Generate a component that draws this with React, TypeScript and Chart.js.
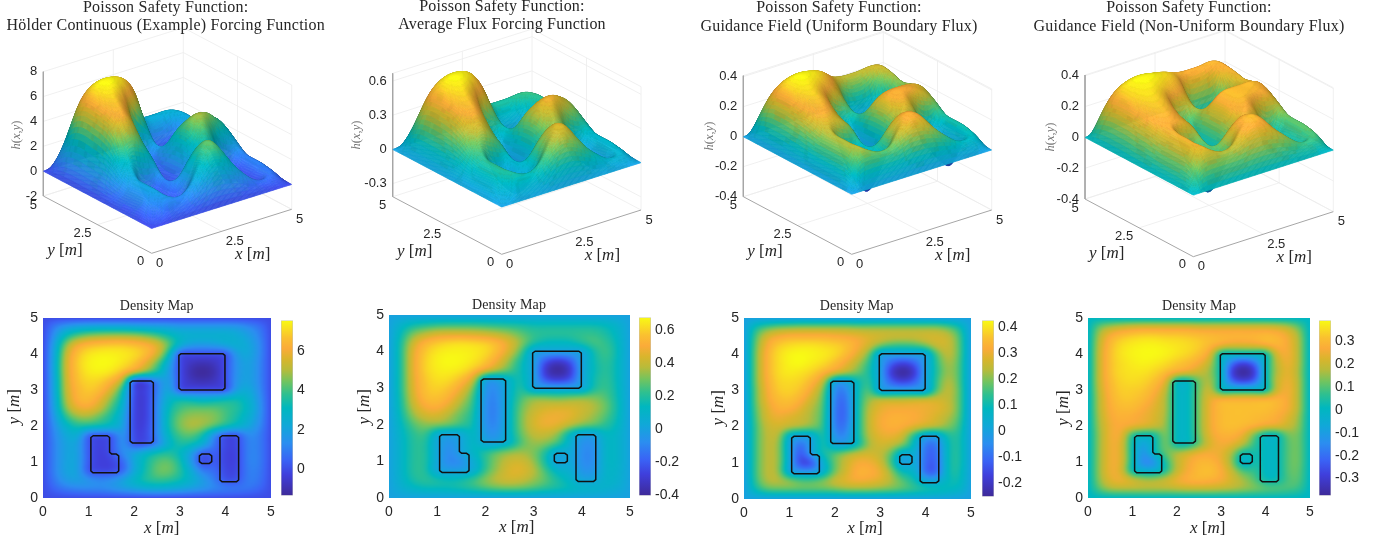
import React, { useEffect, useRef } from "react";
import { Chart, registerables } from "chart.js";
Chart.register(...registerables);

const gridX = [0, .25, .5, .75, 1, 1.25, 1.5, 1.75, 2, 2.25, 2.5, 2.75, 3, 3.25, 3.5, 3.75, 4, 4.25, 4.5, 4.75, 5];
const gridY = [5, 4.75, 4.5, 4.25, 4, 3.75, 3.5, 3.25, 3, 2.75, 2.5, 2.25, 2, 1.75, 1.5, 1.25, 1, .75, .5, .25, 0];
const Z0 = [0, 0, 0, 0, 0, 0, 0, 0, 0, 0, 0, 0, 0, 0, 0, 0, 0, 0, 0, 0, 0];

const holderValues = [
  Z0,
  [0, 1.0, 1.7, 2.1, 2.3, 2.4, 2.4, 2.4, 2.3, 2.2, 2.1, 2.0, 1.8, 1.8, 1.8, 1.8, 1.8, 1.7, 1.3, .8, 0],
  [0, 1.5, 3.3, 4.2, 4.7, 4.9, 5.0, 5.0, 4.9, 4.6, 4.1, 3.4, 2.8, 2.6, 2.6, 2.6, 2.6, 2.4, 1.9, 1.1, 0],
  [0, 2.0, 4.6, 6.0, 6.5, 6.7, 6.8, 6.8, 6.6, 6.3, 5.7, 4.4, 2.6, 1.8, 1.7, 1.8, 2.2, 2.5, 2.2, 1.3, 0],
  [0, 2.2, 5.2, 6.6, 7.2, 7.4, 7.4, 7.3, 7.1, 6.6, 5.6, 3.4, 0, 0, 0, 0, 0, 1.8, 2.2, 1.3, 0],
  [0, 2.3, 5.4, 6.8, 7.4, 7.54, 7.5, 7.2, 6.7, 5.8, 4.3, 2.3, 0, -.7, -.9, -.7, 0, 1.5, 2, 1.2, 0],
  [0, 2.3, 5.4, 6.7, 7.3, 7.4, 7.2, 6.6, 5.7, 4.6, 3.5, 1.9, 0, -1.0, -1.34, -1.0, 0, 1.5, 2, 1.2, 0],
  [0, 2.2, 5.3, 6.6, 7.0, 6.9, 6.3, 5.0, 0, 0, 1.1, 2.0, 0, -.7, -.9, -.7, 0, 1.6, 2, 1.2, 0],
  [0, 2.2, 5.2, 6.4, 6.8, 6.5, 5.5, 3.5, -.1, -.2, .9, 2.3, 0, 0, 0, 0, 0, 1.9, 2.3, 1.3, 0],
  [0, 2.1, 5.0, 6.3, 6.5, 5.9, 4.6, 3.0, -.2, -.3, 1.1, 2.7, 3.2, 3.0, 2.7, 2.9, 3.2, 3.3, 2.7, 1.5, 0],
  [0, 2.0, 4.6, 5.8, 6.0, 5.3, 4.0, 2.6, -.2, -.3, 1.2, 3.1, 3.9, 4.2, 4.2, 4.2, 3.9, 3.6, 2.9, 1.6, 0],
  [0, 1.7, 3.7, 4.7, 4.8, 4.2, 3.4, 2.2, -.2, -.3, 1.2, 3.3, 4.4, 4.8, 4.8, 4.6, 4.0, 3.4, 2.6, 1.5, 0],
  [0, 1.4, 2.8, 3.5, 3.5, 3.3, 2.9, 2.0, -.2, -.2, 1.2, 3.3, 4.5, 5.0, 4.8, 4.2, 3.5, 2.9, 2.2, 1.3, 0],
  [0, 1.2, 2.2, 2.5, .4, .1, .3, 1.6, -.1, -.1, 1.2, 3.0, 4.0, 4.2, 3.4, 1.4, .1, .1, 1.3, 1.0, 0],
  [0, 1.1, 2.0, 2.0, .2, -.2, .1, 1.5, .1, .1, 1.0, 2.7, 3.5, 3.3, 2.5, .9, -.1, -.1, 1.1, 1.0, 0],
  [0, 1.1, 2.0, 2.0, .2, -.3, .1, 1.3, 2.0, 2.8, 3.4, 3.6, 3.1, 1.9, .2, .5, -.2, -.2, 1.1, 1.0, 0],
  [0, 1.1, 2.0, 2.0, .2, -.3, -.2, .5, 2.2, 3.3, 4.1, 4.3, 3.5, 1.7, -.1, .4, -.2, -.2, 1.1, 1.0, 0],
  [0, 1.1, 2.0, 2.0, .1, -.1, -.1, .5, 2.2, 3.4, 4.3, 4.4, 3.7, 2.4, 1.0, .7, -.1, -.1, 1.0, .9, 0],
  [0, .9, 1.7, 1.9, 1.5, 1.2, 1.4, 2.0, 2.9, 3.5, 3.8, 3.7, 3.3, 2.6, 1.8, 1.0, .1, .1, 1.0, .8, 0],
  [0, .5, .9, 1.1, 1.2, 1.2, 1.4, 1.7, 2.0, 2.3, 2.4, 2.3, 2.1, 1.8, 1.5, 1.2, 1.0, .9, .8, .5, 0],
  Z0,
];

const averageFluxValues = [
  Z0,
  [0, .09, .15, .18, .2, .21, .21, .21, .2, .19, .18, .17, .15, .15, .15, .15, .15, .15, .13, .08, 0],
  [0, .15, .3, .37, .42, .43, .43, .42, .4, .37, .33, .27, .22, .21, .21, .21, .22, .22, .18, .11, 0],
  [0, .19, .41, .53, .58, .61, .62, .61, .59, .54, .45, .33, .2, .14, .13, .14, .2, .25, .22, .13, 0],
  [0, .2, .46, .58, .64, .66, .66, .65, .62, .55, .43, .25, 0, 0, 0, 0, 0, .17, .24, .14, 0],
  [0, .2, .47, .6, .66, .677, .67, .64, .58, .48, .33, .17, 0, -.22, -.3, -.22, 0, .15, .22, .13, 0],
  [0, .2, .47, .6, .65, .66, .64, .58, .48, .37, .27, .15, 0, -.32, -.405, -.32, 0, .14, .21, .13, 0],
  [0, .2, .46, .58, .63, .62, .56, .43, 0, 0, .11, .17, 0, -.24, -.3, -.24, 0, .16, .22, .13, 0],
  [0, .2, .45, .57, .6, .57, .48, .3, -.05, -.07, .09, .2, 0, 0, 0, 0, 0, .18, .23, .14, 0],
  [0, .19, .43, .55, .57, .52, .4, .24, -.07, -.09, .1, .25, .31, .3, .28, .3, .32, .31, .26, .15, 0],
  [0, .18, .39, .5, .52, .45, .33, .21, -.08, -.1, .11, .29, .38, .42, .43, .43, .41, .37, .29, .16, 0],
  [0, .16, .33, .42, .43, .36, .27, .18, -.08, -.1, .11, .31, .42, .47, .48, .46, .4, .34, .26, .15, 0],
  [0, .13, .26, .32, .32, .29, .23, .16, -.07, -.09, .11, .31, .43, .48, .46, .39, .32, .28, .21, .13, 0],
  [0, .11, .21, .24, .05, .01, .03, .14, -.04, -.06, .11, .29, .39, .4, .33, .13, .01, .01, .13, .1, 0],
  [0, .1, .2, .2, .02, -.06, .01, .13, .01, .01, .1, .26, .34, .32, .24, .08, -.06, -.06, .11, .1, 0],
  [0, .1, .2, .2, .02, -.09, .01, .12, .2, .28, .33, .35, .31, .19, .02, .05, -.08, -.08, .11, .1, 0],
  [0, .1, .2, .2, .02, -.1, -.07, .05, .21, .33, .41, .42, .34, .17, -.02, .04, -.08, -.08, .11, .1, 0],
  [0, .1, .2, .2, .01, -.01, -.01, .05, .23, .35, .44, .45, .38, .24, .1, .07, -.05, -.05, .1, .09, 0],
  [0, .09, .18, .21, .18, .15, .17, .23, .32, .39, .42, .4, .34, .27, .18, .11, .01, .01, .1, .08, 0],
  [0, .06, .11, .14, .14, .15, .17, .2, .24, .27, .28, .27, .24, .2, .17, .14, .11, .1, .08, .05, 0],
  Z0,
];

const uniformFluxValues = [
  Z0,
  [0, .11, .16, .19, .2, .21, .21, .21, .21, .21, .2, .2, .2, .2, .2, .2, .2, .2, .17, .11, 0],
  [0, .16, .27, .31, .33, .33, .33, .33, .32, .31, .3, .28, .27, .26, .26, .26, .27, .27, .25, .16, 0],
  [0, .18, .31, .37, .39, .4, .4, .39, .38, .36, .32, .27, .2, .16, .15, .16, .2, .26, .26, .17, 0],
  [0, .19, .33, .39, .42, .427, .42, .41, .39, .35, .29, .19, 0, 0, 0, 0, 0, .17, .25, .17, 0],
  [0, .19, .33, .39, .42, .427, .41, .39, .35, .3, .23, .14, 0, -.12, -.17, -.12, 0, .14, .23, .16, 0],
  [0, .19, .33, .39, .41, .4, .38, .34, .29, .24, .19, .12, 0, -.19, -.25, -.19, 0, .13, .22, .16, 0],
  [0, .19, .32, .38, .39, .38, .34, .25, 0, 0, .09, .14, 0, -.12, -.17, -.12, 0, .15, .24, .16, 0],
  [0, .18, .31, .37, .38, .36, .3, .19, -.05, -.06, .09, .17, 0, 0, 0, 0, 0, .17, .25, .17, 0],
  [0, .18, .3, .35, .36, .33, .26, .17, -.07, -.09, .1, .21, .25, .25, .25, .26, .27, .27, .25, .17, 0],
  [0, .17, .28, .33, .33, .29, .23, .16, -.08, -.1, .1, .24, .29, .31, .31, .31, .3, .29, .26, .17, 0],
  [0, .16, .27, .3, .28, .26, .22, .15, -.08, -.1, .1, .25, .31, .33, .33, .32, .3, .27, .23, .16, 0],
  [0, .15, .25, .27, .25, .23, .2, .14, -.07, -.08, .1, .25, .31, .33, .32, .29, .26, .24, .2, .14, 0],
  [0, .15, .24, .24, .05, .01, .03, .13, -.04, -.05, .1, .24, .29, .3, .26, .12, .01, .01, .12, .12, 0],
  [0, .15, .24, .22, .02, -.1, .01, .12, .01, .01, .09, .22, .27, .25, .2, .08, -.08, -.08, .1, .12, 0],
  [0, .15, .24, .22, .02, -.14, .01, .11, .17, .22, .26, .27, .25, .17, .02, .05, -.1, -.1, .1, .12, 0],
  [0, .15, .24, .22, .02, -.16, -.14, .05, .18, .26, .31, .31, .27, .15, -.02, .04, -.11, -.11, .1, .12, 0],
  [0, .15, .24, .22, .01, -.02, -.02, .05, .19, .27, .33, .33, .3, .21, .09, .07, -.11, -.11, .1, .11, 0],
  [0, .14, .23, .24, .21, .17, .17, .2, .26, .29, .31, .3, .28, .23, .17, .11, .02, .02, .09, .1, 0],
  [0, .1, .16, .17, .17, .17, .17, .17, .18, .2, .2, .2, .19, .18, .16, .14, .12, .11, .09, .07, 0],
  Z0,
];

const nonUniformFluxValues = [
  Z0,
  [0, .12, .17, .2, .22, .23, .23, .23, .23, .23, .22, .22, .22, .22, .22, .22, .22, .21, .18, .11, 0],
  [0, .17, .27, .31, .33, .34, .34, .33, .33, .32, .31, .3, .29, .29, .29, .29, .3, .29, .25, .16, 0],
  [0, .19, .3, .35, .37, .38, .38, .37, .36, .35, .33, .3, .26, .23, .23, .24, .27, .29, .26, .17, 0],
  [0, .2, .31, .36, .38, .389, .389, .38, .36, .34, .31, .24, 0, 0, 0, 0, 0, .22, .26, .17, 0],
  [0, .2, .31, .35, .37, .38, .37, .35, .32, .3, .26, .18, 0, -.2, -.28, -.2, 0, .18, .25, .17, 0],
  [0, .2, .31, .35, .36, .36, .34, .31, .27, .24, .2, .15, 0, -.3, -.374, -.3, 0, .17, .24, .16, 0],
  [0, .2, .3, .34, .35, .34, .31, .24, 0, 0, .12, .17, 0, -.22, -.28, -.22, 0, .19, .25, .17, 0],
  [0, .19, .29, .33, .33, .32, .28, .19, 0, 0, .12, .2, 0, 0, 0, 0, 0, .2, .26, .17, 0],
  [0, .18, .28, .32, .32, .3, .25, .17, 0, 0, .13, .24, .28, .28, .28, .28, .29, .29, .26, .17, 0],
  [0, .18, .27, .3, .3, .27, .23, .17, 0, 0, .13, .25, .3, .31, .31, .31, .31, .29, .26, .17, 0],
  [0, .17, .26, .28, .27, .25, .22, .16, 0, 0, .13, .25, .3, .31, .31, .3, .29, .27, .23, .15, 0],
  [0, .16, .25, .27, .25, .23, .2, .15, 0, 0, .13, .25, .3, .31, .3, .28, .25, .24, .2, .14, 0],
  [0, .15, .25, .25, .05, .01, .03, .14, 0, 0, .12, .24, .28, .28, .24, .11, 0, 0, .12, .12, 0],
  [0, .15, .25, .23, .02, -.09, .01, .13, .01, .01, .11, .22, .26, .24, .18, .07, 0, 0, .1, .12, 0],
  [0, .15, .25, .23, .02, -.13, .01, .11, .17, .21, .25, .26, .24, .16, .02, .04, 0, 0, .1, .12, 0],
  [0, .15, .25, .23, .02, -.16, -.13, .05, .18, .25, .29, .29, .25, .14, -.05, .04, 0, 0, .1, .12, 0],
  [0, .15, .25, .22, .01, -.03, -.03, .05, .19, .26, .3, .31, .27, .19, .09, .07, 0, 0, .1, .11, 0],
  [0, .14, .23, .25, .21, .17, .17, .2, .25, .28, .29, .28, .26, .21, .16, .1, .02, .02, .09, .1, 0],
  [0, .1, .16, .17, .17, .17, .17, .17, .18, .19, .19, .19, .18, .17, .15, .13, .11, .1, .09, .07, 0],
  Z0,
];

const obstacleL = [[1.05, .7], [1.66, .7], [1.66, 1.22], [1.46, 1.22], [1.46, 1.73], [1.05, 1.73]];
const obstacleTall = [[1.91, 1.53], [2.42, 1.53], [2.42, 3.25], [1.91, 3.25]];
const obstacleWide = [[2.98, 3], [3.99, 3], [3.99, 4.01], [2.98, 4.01]];
const obstacleSmall = [[3.43, .96], [3.7, .96], [3.7, 1.22], [3.43, 1.22]];
const obstacleRight = [[3.88, .45], [4.29, .45], [4.29, 1.73], [3.88, 1.73]];
const obstacles = [obstacleL, obstacleTall, obstacleWide, obstacleSmall, obstacleRight];

const topTitles = [
  ["Poisson Safety Function:", "Hölder Continuous (Example) Forcing Function"],
  ["Poisson Safety Function:", "Average Flux Forcing Function"],
  ["Poisson Safety Function:", "Guidance Field (Uniform Boundary Flux)"],
  ["Poisson Safety Function:", "Guidance Field (Non-Uniform Boundary Flux)"],
];
const colorbarTicks = [
  [0, 2, 4, 6],
  [-.4, -.2, 0, .2, .4, .6],
  [-.2, -.1, 0, .1, .2, .3, .4],
  [-.3, -.2, -.1, 0, .1, .2, .3],
];
const colorRanges = [[-1.34, 7.54], [-.405, .677], [-.25, .427], [-.374, .389]];
const heightTicks = [
  [-2, 0, 2, 4, 6, 8],
  [-.3, 0, .3, .6],
  [-.4, -.2, 0, .2, .4],
  [-.4, -.2, 0, .2, .4],
];
const planeTicks = [0, 2.5, 5];
const surfaces = [holderValues, averageFluxValues, uniformFluxValues, nonUniformFluxValues];

// layout (page pixels)
const views = [
  { left: 0, width: 340, n: [151.7, 253.3], r: [291.7, 209.3], l: [43.3, 196], k: 12.43, zMin: -2, zMax: 8, title: [165.7, 7.5, 26], hX: 16.7, hY: 135 },
  { left: 340, width: 340, n: [501.7, 254.3], r: [641, 210], l: [392.7, 196.7], k: 114, zMin: -.415, zMax: .667, title: [502, 7, 25], hX: 356.7, hY: 135 },
  { left: 680, width: 340, n: [851.7, 254.3], r: [991.7, 210], l: [743.3, 196.7], k: 150, zMin: -.4, zMax: .407, title: [839, 8, 26.5], hX: 710, hY: 136 },
  { left: 1020, width: 354, n: [1193.3, 256.7], r: [1333.3, 211.7], l: [1085, 199], k: 154, zMin: -.4, zMax: .405, title: [1189, 8, 27], hX: 1050.7, hY: 137 },
];
const maps = [
  { x0: 43, x1: 271, y0: 318, y1: 498, cb: [281, 293], title: [156.7, 306], xl: [161.7, 529], yl: [15, 406.7] },
  { x0: 389, x1: 630, y0: 315, y1: 498, cb: [639, 651], title: [509, 305], xl: [516.7, 528], yl: [365, 406.7] },
  { x0: 744, x1: 971, y0: 318, y1: 499, cb: [982, 994], title: [856.7, 306.7], xl: [865, 529], yl: [719, 407.7] },
  { x0: 1088, x1: 1310, y0: 318, y1: 498, cb: [1319, 1331], title: [1199, 306.7], xl: [1207.7, 529], yl: [1064, 408] },
];

const SANS = "'Liberation Sans', Arial, sans-serif";
const SERIF = "'Liberation Serif', 'Times New Roman', serif";
const INK = "#262626";

const STOPS: [number, number, number, number][] = [
  [0, 62, 42, 152], [.12, 63, 63, 220], [.2, 58, 98, 245], [.3, 43, 142, 240], [.4, 16, 168, 216],
  [.5, 0, 183, 191], [.58, 47, 192, 143], [.65, 112, 196, 96], [.72, 184, 187, 58], [.78, 217, 181, 44],
  [.84, 251, 171, 57], [.9, 250, 192, 48], [1, 248, 250, 20],
];
function cmap(t: number): [number, number, number] {
  t = Math.max(0, Math.min(1, t));
  for (let i = 1; i < STOPS.length; i++) {
    if (t <= STOPS[i][0]) {
      const a = STOPS[i - 1], b = STOPS[i], f = (t - a[0]) / (b[0] - a[0]);
      return [a[1] + (b[1] - a[1]) * f, a[2] + (b[2] - a[2]) * f, a[3] + (b[3] - a[3]) * f];
    }
  }
  return [248, 250, 20];
}
const css = (c: number[]) => `rgb(${c[0] | 0},${c[1] | 0},${c[2] | 0})`;

// Spline painting of a grid (the same role as a line's tension): only used when painting.
function spline(a: number, b: number, c: number, d: number, t: number) {
  return b + .5 * t * (c - a + t * (2 * a - 5 * b + 4 * c - d + t * (3 * (b - c) + d - a)));
}
function soften(line: number[]) {
  const n = line.length, out = new Array(n);
  const get = (i: number) => i < 0 ? 2 * line[0] - line[-i] : i >= n ? 2 * line[n - 1] - line[2 * n - 2 - i] : line[i];
  for (let i = 0; i < n; i++) out[i] = (get(i - 2) + get(i - 1) + get(i) + get(i + 1) + get(i + 2)) / 5;
  return out;
}
function smooth(rows: number[][], R: number, passes: number) {
  const n = rows.length, M = (n - 1) * R + 1;
  const at = (r: number, c: number) => rows[Math.max(0, Math.min(n - 1, r))][Math.max(0, Math.min(n - 1, c))];
  let out: number[][] = [];
  for (let i = 0; i < M; i++) {
    const ri = Math.min(n - 2, Math.floor(i / R)), tr = i / R - ri;
    const row: number[] = [];
    for (let j = 0; j < M; j++) {
      const ci = Math.min(n - 2, Math.floor(j / R)), tc = j / R - ci;
      const v = [-1, 0, 1, 2].map((d) =>
        spline(at(ri + d, ci - 1), at(ri + d, ci), at(ri + d, ci + 1), at(ri + d, ci + 2), tc));
      row.push(spline(v[0], v[1], v[2], v[3], tr));
    }
    out.push(row);
  }
  for (let p = 0; p < passes; p++) {
    out = out.map(soften);
    const cols = out[0].map((_, c) => soften(out.map((r) => r[c])));
    out = out.map((r, ri) => r.map((_, c) => cols[c][ri]));
  }
  return out;
}

type Part = [string, boolean];
function mixed(ctx: any, parts: Part[], cx: number, cy: number, rot: number, size: number, color: string) {
  ctx.save();
  ctx.translate(cx, cy);
  ctx.rotate(rot);
  ctx.fillStyle = color;
  ctx.textBaseline = "middle";
  ctx.textAlign = "left";
  const font = (it: boolean) => `${it ? "italic " : ""}${size}px ${SERIF}`;
  let w = 0;
  parts.forEach(([s, it]) => { ctx.font = font(it); w += ctx.measureText(s).width; });
  let x = -w / 2;
  parts.forEach(([s, it]) => { ctx.font = font(it); ctx.fillText(s, x, 0); x += ctx.measureText(s).width; });
  ctx.restore();
}
const label = (a: string): Part[] => [[a, true], [" [", false], ["m", true], ["]", false]];
const hLabel: Part[] = [["h", true], ["(", false], ["x", true], [",", false], ["y", true], [")", false]];
function titleText(ctx: any, s: string, cx: number, cy: number, size: number, spacing: number) {
  ctx.save();
  ctx.font = `${size}px ${SERIF}`;
  (ctx as any).letterSpacing = `${spacing}px`;
  ctx.fillStyle = INK;
  ctx.textAlign = "center";
  ctx.textBaseline = "middle";
  ctx.fillText(s, cx, cy);
  ctx.restore();
}

function projector(v: any) {
  return (x: number, y: number, z: number) => ({
    x: v.n[0] + (x / 5) * (v.r[0] - v.n[0]) + (y / 5) * (v.l[0] - v.n[0]),
    y: v.n[1] + (x / 5) * (v.r[1] - v.n[1]) + (y / 5) * (v.l[1] - v.n[1]) - (z - v.zMin) * v.k,
  });
}

function surfaceConfig(i: number) {
  const v = views[i], P = projector(v), rows = surfaces[i], ticks = heightTicks[i];
  const [cMin, cMax] = colorRanges[i];
  const gap = { x: NaN, y: NaN };
  const light: any[] = [];
  const seg = (a: any, b: any) => light.push(a, b, gap);
  const levels = [...ticks.filter((t) => t !== v.zMax), v.zMax];
  levels.forEach((z) => {
    seg(P(0, 5, z), P(5, 5, z));
    seg(P(5, 5, z), P(5, 0, z));
  });
  seg(P(2.5, 0, v.zMin), P(2.5, 5, v.zMin));
  seg(P(0, 2.5, v.zMin), P(5, 2.5, v.zMin));
  seg(P(2.5, 5, v.zMin), P(2.5, 5, v.zMax));
  seg(P(5, 2.5, v.zMin), P(5, 2.5, v.zMax));
  seg(P(5, 5, v.zMin), P(5, 5, v.zMax));
  seg(P(5, 0, v.zMin), P(5, 0, v.zMax));
  seg(P(0, 5, v.zMin), P(5, 5, v.zMin));
  seg(P(5, 5, v.zMin), P(5, 0, v.zMin));
  const axes = [P(0, 5, v.zMax), P(0, 5, v.zMin), P(0, 0, v.zMin), P(5, 0, v.zMin)];
  const control: any[] = [];
  rows.forEach((row, r) => row.forEach((h, c) => control.push({ ...P(gridX[c], gridY[r], h), h })));

  const plugin = {
    id: "surface" + i,
    afterDatasetsDraw(chart: any) {
      const ctx = chart.ctx, sx = chart.scales.x, sy = chart.scales.y;
      const R = 6, F = smooth(rows, R, 3), M = F.length, BANDS = 50;
      const dx = 5 / (M - 1), kz = v.k / 30;
      const Z = (ix: number, iy: number) => F[M - 1 - iy][ix];
      const px = (ix: number, iy: number) => {
        const p = P(ix * dx, iy * dx, Z(ix, iy));
        return [sx.getPixelForValue(p.x), sy.getPixelForValue(p.y)];
      };
      const L = [-.45, -.45, .77];
      ctx.save();
      ctx.lineWidth = .6;
      ctx.lineJoin = "round";
      for (let ix = M - 2; ix >= 0; ix--) {
        for (let iy = M - 2; iy >= 0; iy--) {
          const a = Z(ix, iy), b = Z(ix + 1, iy), c = Z(ix + 1, iy + 1), d = Z(ix, iy + 1);
          const zx = ((b - a + c - d) / 2 / dx) * kz, zy = ((d - a + c - b) / 2 / dx) * kz;
          const m = Math.hypot(zx, zy, 1);
          const dot = (-zx * L[0] - zy * L[1] + L[2]) / m;
          const shade = Math.max(.62, Math.min(1.05, .62 + .5 * dot));
          const t = (((a + b + c + d) / 4) - cMin) / (cMax - cMin);
          const band = Math.floor(t * BANDS), fr = t * BANDS - band;
          const col = cmap((band + .5) / BANDS);
          const s = shade * (fr < .25 ? .96 : 1);
          const style = css(col.map((q) => Math.min(255, q * s)));
          const p1 = px(ix, iy), p2 = px(ix + 1, iy), p3 = px(ix + 1, iy + 1), p4 = px(ix, iy + 1);
          ctx.fillStyle = style;
          ctx.strokeStyle = style;
          ctx.beginPath();
          ctx.moveTo(p1[0], p1[1]);
          ctx.lineTo(p2[0], p2[1]);
          ctx.lineTo(p3[0], p3[1]);
          ctx.lineTo(p4[0], p4[1]);
          ctx.closePath();
          ctx.fill();
          ctx.stroke();
        }
      }
      ctx.restore();

      const X = (q: number) => sx.getPixelForValue(q), Y = (q: number) => sy.getPixelForValue(q);
      ctx.save();
      ctx.font = `13px ${SANS}`;
      ctx.fillStyle = INK;
      ctx.textBaseline = "middle";
      ctx.textAlign = "right";
      ticks.forEach((z) => {
        const p = P(0, 5, z);
        ctx.fillText(String(z), X(p.x - 6), Y(p.y));
      });
      ctx.textAlign = "center";
      const yOff = [[-11, 8], [-15, 9], [-10, 9]], xOff = [[8, 10], [13, 10], [8, 10]];
      planeTicks.forEach((t, k) => {
        const py = P(0, t, v.zMin), pxx = P(t, 0, v.zMin);
        ctx.fillText(String(t), X(py.x + yOff[k][0]), Y(py.y + yOff[k][1]));
        ctx.fillText(String(t), X(pxx.x + xOff[k][0]), Y(pxx.y + xOff[k][1]));
      });
      ctx.restore();
      const my = P(0, 2.5, v.zMin), mx = P(2.5, 0, v.zMin);
      mixed(ctx, label("y"), X(my.x - 32.5), Y(my.y + 26), 0, 17, INK);
      mixed(ctx, label("x"), X(mx.x + 31), Y(mx.y + 23), 0, 17, INK);
      mixed(ctx, hLabel, X(v.hX), Y(v.hY), -Math.PI / 2, 12.5, "#707070");
      titleText(ctx, topTitles[i][0], X(v.title[0]), Y(v.title[1]), 16, .23);
      titleText(ctx, topTitles[i][1], X(v.title[0]), Y(v.title[2]), 16, .23);
    },
  };

  return {
    type: "scatter",
    data: {
      datasets: [
        { label: "surface", data: control, pointRadius: 0, showLine: false },
        { label: "axes", data: axes, showLine: true, pointRadius: 0, borderColor: "#a6a6a6", borderWidth: 1, tension: 0 },
        { label: "grid", data: light, showLine: true, pointRadius: 0, borderColor: "#ececec", borderWidth: .8, tension: 0 },
      ],
    },
    options: {
      animation: false, responsive: false, events: [],
      layout: { padding: 0 },
      plugins: { legend: { display: false }, tooltip: { enabled: false } },
      scales: {
        x: { type: "linear", display: false, min: v.left, max: v.left + v.width },
        y: { type: "linear", display: false, min: 0, max: 285, reverse: true },
      },
    },
    plugins: [plugin],
  };
}

function chamfered(poly: number[][], c: number) {
  const out: any[] = [];
  poly.forEach((p, i) => {
    const a = poly[(i + poly.length - 1) % poly.length], b = poly[(i + 1) % poly.length];
    const to = (q: number[]) => {
      const l = Math.hypot(q[0] - p[0], q[1] - p[1]);
      return { x: p[0] + ((q[0] - p[0]) / l) * c, y: p[1] + ((q[1] - p[1]) / l) * c };
    };
    out.push(to(a), to(b));
  });
  out.push(out[0], { x: NaN, y: NaN });
  return out;
}

const MAP_PAD = { left: 43, right: 12, top: 26, bottom: 45 };
function mapConfig(i: number) {
  const m = maps[i], rows = surfaces[i];
  const [cMin, cMax] = colorRanges[i];
  const cells: any[] = [];
  rows.forEach((row, r) => row.forEach((h, c) => cells.push({ x: gridX[c], y: gridY[r], h })));
  const outline: any[] = [];
  obstacles.forEach((o) => outline.push(...chamfered(o, .05)));
  const off = document.createElement("canvas");
  const R = 6, F = smooth(rows, R, 2), M = F.length;
  off.width = M; off.height = M;
  const octx = off.getContext("2d")!;
  const img = octx.createImageData(M, M);
  F.forEach((row, r) => row.forEach((h, c) => {
    const q = cmap((h - cMin) / (cMax - cMin)), o = (r * M + c) * 4;
    img.data[o] = q[0]; img.data[o + 1] = q[1]; img.data[o + 2] = q[2]; img.data[o + 3] = 255;
  }));
  octx.putImageData(img, 0, 0);
  const plugin = {
    id: "density" + i,
    afterDatasetDraw(chart: any, args: any) {
      if (chart.data.datasets[args.index].label !== "density") return;
      const ctx = chart.ctx, a = chart.chartArea, sx = chart.scales.x, sy = chart.scales.y;
      const h = (5 / (M - 1)) / 2;
      ctx.save();
      ctx.beginPath();
      ctx.rect(a.left, a.top, a.right - a.left, a.bottom - a.top);
      ctx.clip();
      ctx.imageSmoothingEnabled = true;
      ctx.imageSmoothingQuality = "high";
      const l = sx.getPixelForValue(-h), t = sy.getPixelForValue(5 + h);
      ctx.drawImage(off, l, t, sx.getPixelForValue(5 + h) - l, sy.getPixelForValue(-h) - t);
      ctx.restore();
    },
    afterDraw(chart: any) {
      const ctx = chart.ctx;
      const ox = m.x0 - MAP_PAD.left, oy = m.y0 - MAP_PAD.top;
      titleText(ctx, "Density Map", m.title[0] - ox, m.title[1] - oy, 14, .12);
      mixed(ctx, label("x"), m.xl[0] - ox, m.xl[1] - oy, 0, 17, INK);
      mixed(ctx, label("y"), m.yl[0] - ox, m.yl[1] - oy, -Math.PI / 2, 17, INK);
    },
  };
  const tickFont = { family: SANS, size: 14 };
  return {
    type: "scatter",
    data: {
      datasets: [
        { label: "obstacles", data: outline, showLine: true, pointRadius: 0, borderColor: "#111111", borderWidth: 1.5, tension: 0, borderJoinStyle: "round" },
        {
          label: "density", data: cells, pointStyle: "rect", pointRadius: 9, borderWidth: 0,
          backgroundColor: (c: any) => css(cmap(((c.raw?.h ?? 0) - cMin) / (cMax - cMin))),
        },
      ],
    },
    options: {
      animation: false, responsive: false, events: [],
      layout: { padding: { top: MAP_PAD.top, right: MAP_PAD.right, left: 0, bottom: 0 } },
      plugins: { legend: { display: false }, tooltip: { enabled: false } },
      scales: {
        x: {
          type: "linear", min: 0, max: 5, grid: { display: false, drawTicks: false }, border: { display: false },
          ticks: { stepSize: 1, font: tickFont, color: INK, padding: 6, maxRotation: 0 },
          afterFit: (s: any) => { s.height = MAP_PAD.bottom; },
        },
        y: {
          type: "linear", min: 0, max: 5, grid: { display: false, drawTicks: false }, border: { display: false },
          ticks: { stepSize: 1, font: tickFont, color: INK, padding: 5 },
          afterFit: (s: any) => { s.width = MAP_PAD.left; },
        },
      },
    },
    plugins: [plugin],
  };
}

function barConfig(i: number) {
  const [cMin, cMax] = colorRanges[i];
  return {
    type: "bar",
    data: {
      labels: ["h"],
      datasets: [{
        data: [[cMin, cMax]], barPercentage: 1, categoryPercentage: 1,
        borderColor: "#c4c4c4", borderWidth: .8, borderSkipped: false,
        backgroundColor: (c: any) => {
          const a = c.chart.chartArea;
          if (!a) return "#00b7bf";
          const g = c.chart.ctx.createLinearGradient(0, a.bottom, 0, a.top);
          STOPS.forEach((s) => g.addColorStop(s[0], `rgb(${s[1]},${s[2]},${s[3]})`));
          return g;
        },
      }],
    },
    options: {
      animation: false, responsive: false, events: [],
      layout: { padding: { top: 10, bottom: 10 } },
      plugins: { legend: { display: false }, tooltip: { enabled: false } },
      scales: {
        x: { display: false },
        y: {
          position: "right", min: cMin, max: cMax, grid: { display: false, drawTicks: false }, border: { display: false },
          ticks: { font: { family: SANS, size: 14 }, color: INK, padding: 4, callback: (v: any) => String(v) },
          afterBuildTicks: (s: any) => { s.ticks = colorbarTicks[i].map((value) => ({ value })); },
          afterFit: (s: any) => { s.width = 34; },
        },
      },
    },
  };
}

function Plot({ left, top, width, height, make }: any) {
  const ref = useRef<HTMLCanvasElement>(null);
  useEffect(() => {
    const chart = new Chart(ref.current as any, make());
    return () => chart.destroy();
  }, []);
  return (
    <canvas ref={ref} width={width} height={height}
      style={{ position: "absolute", left, top, width, height, display: "block" }} />
  );
}

export default function App() {
  document.body.style.margin = "0";
  return (
    <div style={{ position: "relative", width: 1374, height: 543, overflow: "hidden", background: "#fff" }}>
      {views.map((v, i) => (
        <Plot key={"s" + i} left={v.left} top={0} width={v.width} height={285} make={() => surfaceConfig(i)} />
      ))}
      {maps.map((m, i) => (
        <React.Fragment key={"m" + i}>
          <Plot left={m.x0 - MAP_PAD.left} top={m.y0 - MAP_PAD.top}
            width={m.x1 - m.x0 + MAP_PAD.left + MAP_PAD.right}
            height={m.y1 - m.y0 + MAP_PAD.top + MAP_PAD.bottom} make={() => mapConfig(i)} />
          <Plot left={m.cb[0]} top={m.y0 - 10} width={m.cb[1] - m.cb[0] + 34}
            height={m.y1 - m.y0 + 20} make={() => barConfig(i)} />
        </React.Fragment>
      ))}
    </div>
  );
}
